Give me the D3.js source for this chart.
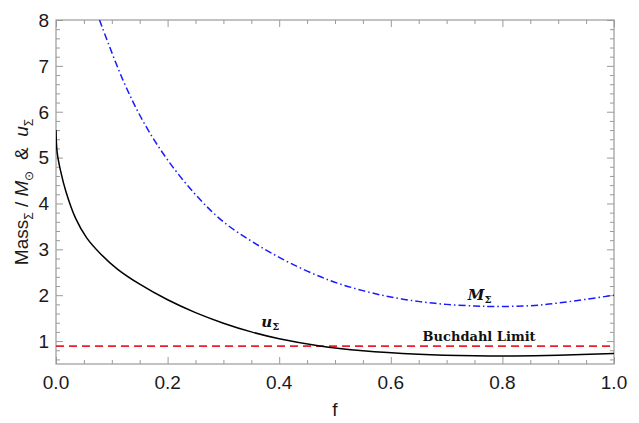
<!DOCTYPE html>
<html>
<head>
<meta charset="utf-8">
<script src="https://cdn.jsdelivr.net/npm/d3@7"></script>
<style>
  body { margin: 0; background: #fff; }
  svg { display: block; }
</style>
</head>
<body>
<svg id="chart" width="639" height="423"></svg>
<script>
// Compactness parameter f on the x axis
const fU = [0, 0.002, 0.008, 0.018, 0.035, 0.055, 0.08, 0.11, 0.15, 0.20, 0.25, 0.30, 0.35, 0.40, 0.47, 0.55, 0.65, 0.75, 0.82, 0.90, 1.0];
const uSigma = [5.6, 5.12, 4.72, 4.25, 3.68, 3.25, 2.90, 2.57, 2.24, 1.90, 1.62, 1.39, 1.20, 1.05, 0.90, 0.79, 0.715, 0.68, 0.675, 0.69, 0.73];

const fM = [0.078, 0.12, 0.158, 0.20, 0.251, 0.30, 0.358, 0.42, 0.491, 0.55, 0.60, 0.652, 0.70, 0.75, 0.783, 0.85, 0.90, 0.95, 1.0];
const mSigma = [8.0, 6.69, 5.75, 4.95, 4.18, 3.60, 3.12, 2.70, 2.32, 2.10, 1.96, 1.86, 1.80, 1.765, 1.755, 1.77, 1.83, 1.91, 2.0];

const buchdahlLimit = 8 / 9;

const xTicks = [0, 0.2, 0.4, 0.6, 0.8, 1.0];
const yTicks = [1, 2, 3, 4, 5, 6, 7, 8];

const svg = d3.select("#chart");
const W = 639, H = 423;
const m = { left: 56, right: 25, top: 20, bottom: 59 };
const iw = W - m.left - m.right, ih = H - m.top - m.bottom;

const x = d3.scaleLinear().domain([0, 1]).range([m.left, m.left + iw]);
const y = d3.scaleLinear().domain([0.5, 8]).range([m.top + ih, m.top]);

const frameColor = "#9a9a9a";

svg.append("defs").append("clipPath").attr("id", "plotClip")
  .append("rect").attr("x", m.left).attr("y", m.top).attr("width", iw).attr("height", ih);

// Ticks on all four sides, pointing inward
const xMinor = d3.range(0, 1.0001, 0.05).filter(v => !xTicks.some(t => Math.abs(t - v) < 1e-6));
const yMinor = d3.range(0.6, 8.0001, 0.2).filter(v => !yTicks.some(t => Math.abs(t - v) < 1e-6));

function axisGroup(axisFn, scale, ticks, size, transform) {
  const g = svg.append("g").attr("transform", transform)
    .call(axisFn(scale).tickValues(ticks).tickSize(size).tickFormat(""));
  g.select(".domain").remove();
  g.selectAll(".tick line").attr("stroke", frameColor).attr("stroke-width", 1);
  return g;
}
// bottom
axisGroup(d3.axisTop, x, xTicks, 7, `translate(0,${m.top + ih})`);
axisGroup(d3.axisTop, x, xMinor, 4, `translate(0,${m.top + ih})`);
// top
axisGroup(d3.axisBottom, x, xTicks, 7, `translate(0,${m.top})`);
axisGroup(d3.axisBottom, x, xMinor, 4, `translate(0,${m.top})`);
// left
axisGroup(d3.axisRight, y, yTicks, 7, `translate(${m.left},0)`);
axisGroup(d3.axisRight, y, yMinor, 4, `translate(${m.left},0)`);
// right
axisGroup(d3.axisLeft, y, yTicks, 7, `translate(${m.left + iw},0)`);
axisGroup(d3.axisLeft, y, yMinor, 4, `translate(${m.left + iw},0)`);

// Frame
svg.append("rect")
  .attr("x", m.left).attr("y", m.top).attr("width", iw).attr("height", ih)
  .attr("fill", "none").attr("stroke", frameColor).attr("stroke-width", 1.2);

// Tick labels
const labelFont = "Liberation Sans, Arial, sans-serif";
svg.append("g").selectAll("text").data(xTicks).join("text")
  .attr("x", d => x(d)).attr("y", m.top + ih + 25)
  .attr("text-anchor", "middle")
  .attr("font-family", labelFont).attr("font-size", 19).attr("fill", "#1a1a1a")
  .text(d => d3.format(".1f")(d));

svg.append("g").selectAll("text").data(yTicks).join("text")
  .attr("x", m.left - 7).attr("y", d => y(d)).attr("dy", "0.36em")
  .attr("text-anchor", "end")
  .attr("font-family", labelFont).attr("font-size", 19).attr("fill", "#1a1a1a")
  .text(d => d);

// Axis titles
svg.append("text")
  .attr("x", x(0.5)).attr("y", 416)
  .attr("text-anchor", "middle")
  .attr("font-family", labelFont).attr("font-size", 19).attr("fill", "#1a1a1a")
  .text("f");

const yTitle = svg.append("text")
  .attr("transform", `translate(28,${m.top + ih / 2}) rotate(-90)`)
  .attr("text-anchor", "middle")
  .attr("font-family", labelFont).attr("font-size", 19).attr("fill", "#1a1a1a")
  .attr("xml:space", "preserve");
yTitle.append("tspan").text("Mass");
yTitle.append("tspan").attr("font-size", 12).attr("dy", 5).text("Σ");
yTitle.append("tspan").attr("dy", -5).text(" / ");
yTitle.append("tspan").attr("font-style", "italic").text("M");
yTitle.append("tspan").attr("font-size", 12).attr("dy", 5).text("⊙");
yTitle.append("tspan").attr("dy", -5).text("  &  ");
yTitle.append("tspan").attr("font-style", "italic").text("u");
yTitle.append("tspan").attr("font-size", 12).attr("dy", 5).text("Σ");

// Curves
const plot = svg.append("g").attr("clip-path", "url(#plotClip)");
const line = d3.line().x(d => x(d[0])).y(d => y(d[1])).curve(d3.curveCatmullRom.alpha(0.5));

plot.append("line")
  .attr("x1", x(0)).attr("x2", x(1))
  .attr("y1", y(buchdahlLimit)).attr("y2", y(buchdahlLimit))
  .attr("stroke", "#e8202a").attr("stroke-width", 1.6)
  .attr("stroke-dasharray", "8,5");

plot.append("path")
  .datum(d3.zip(fU, uSigma))
  .attr("d", line)
  .attr("fill", "none").attr("stroke", "#000").attr("stroke-width", 1.5);

plot.append("path")
  .datum(d3.zip(fM, mSigma))
  .attr("d", line)
  .attr("fill", "none").attr("stroke", "#1a1aff").attr("stroke-width", 1.5)
  .attr("stroke-dasharray", "7,3,1.5,3");

// Curve labels
const serif = "DejaVu Serif, Liberation Serif, serif";
const mLab = svg.append("text").attr("x", x(0.738)).attr("y", y(1.9))
  .attr("font-family", serif).attr("font-weight", "bold").attr("font-size", 15).attr("fill", "#111");
mLab.append("tspan").attr("font-style", "italic").text("M");
mLab.append("tspan").attr("font-size", 10).attr("dy", 3).text("Σ");

const uLab = svg.append("text").attr("x", x(0.368)).attr("y", y(1.3))
  .attr("font-family", serif).attr("font-weight", "bold").attr("font-size", 15).attr("fill", "#111");
uLab.append("tspan").attr("font-style", "italic").text("u");
uLab.append("tspan").attr("font-size", 10).attr("dy", 3).text("Σ");

svg.append("text").attr("x", x(0.657)).attr("y", y(buchdahlLimit) - 5)
  .attr("font-family", serif).attr("font-weight", "bold").attr("font-size", 13).attr("fill", "#111")
  .text("Buchdahl Limit");
</script>
</body>
</html>
